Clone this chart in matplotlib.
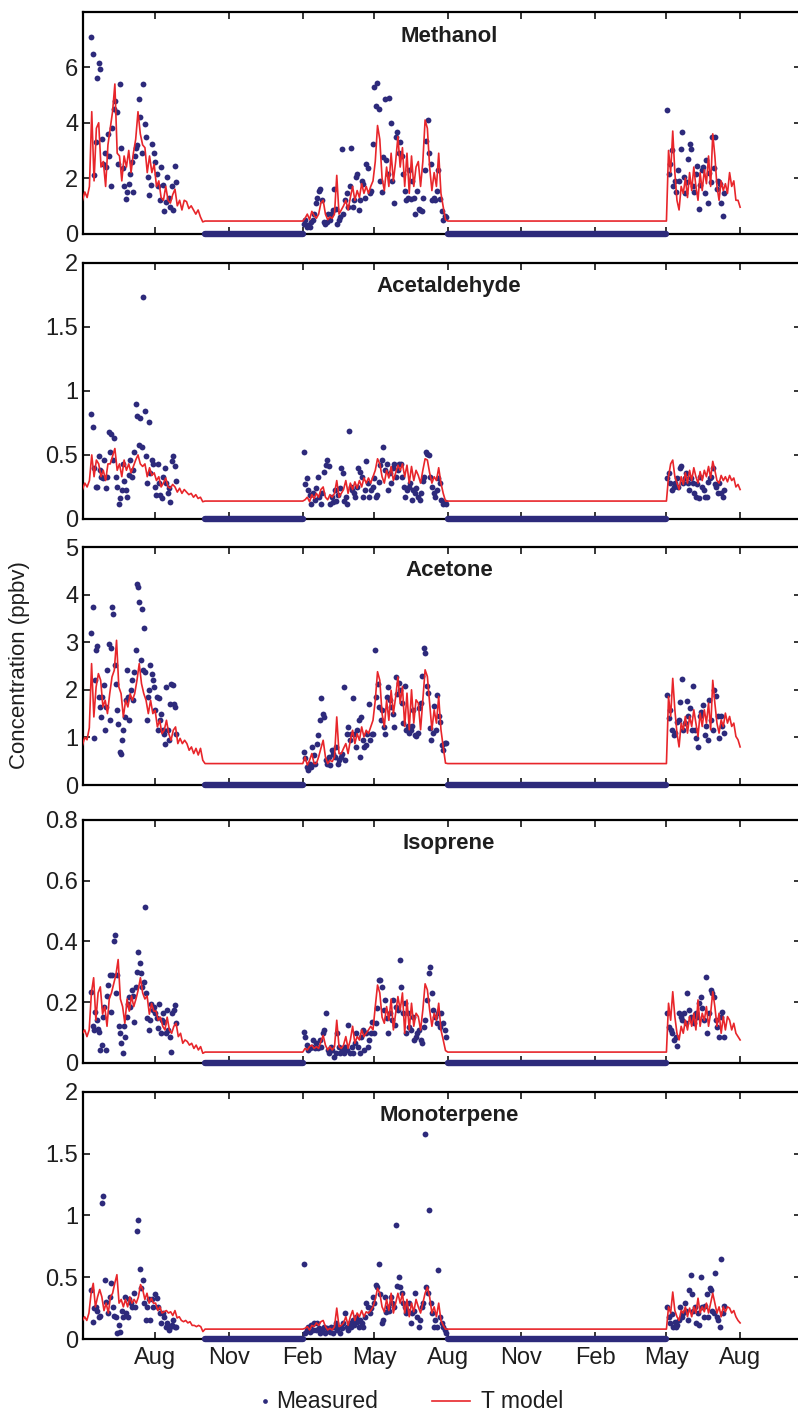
import numpy as np
import matplotlib
matplotlib.use('Agg')
import matplotlib.pyplot as plt
import matplotlib.dates as mdates
from matplotlib.lines import Line2D

plt.rcParams['font.family'] = ['Liberation Sans', 'DejaVu Sans']

NAVY = '#2d2a7b'
RED = '#e8262b'
INK = '#1e1e1e'

# time windows
model_periods = [('2005-05-02', '2005-10-02'), ('2006-02-01', '2006-08-01'), ('2007-05-01', '2007-08-01')]
meas_periods = [('2005-05-13', '2005-08-27'), ('2006-02-02', '2006-07-30'), ('2007-05-02', '2007-07-12')]
zero_periods = [('2005-10-02', '2006-02-01'), ('2006-08-01', '2007-05-01')]
x_range = ('2005-05-02', '2007-10-16')
month_ticks = ['2005-08-01', '2005-11-01', '2006-02-01', '2006-05-01', '2006-08-01',
               '2006-11-01', '2007-02-01', '2007-05-01', '2007-08-01']

species = ['Methanol', 'Acetaldehyde', 'Acetone', 'Isoprene', 'Monoterpene']
y_max = [8, 2, 5, 0.8, 2]
y_ticks = [[0, 2, 4, 6], [0, 0.5, 1, 1.5, 2], [0, 1, 2, 3, 4, 5],
           [0, 0.2, 0.4, 0.6, 0.8], [0, 0.5, 1, 1.5, 2]]

# ---- Methanol ----
meoh_model_1 = [1.2, 1.5, 1.3, 1.7, 4.4, 1.9, 3.8, 4.0, 2.4, 2.6, 1.7, 3.2, 3.8, 4.4, 5.4, 2.9, 2.8, 1.9,
                2.8, 2.4, 3.0, 2.2, 2.9, 3.4, 4.4, 3.6, 3.2, 3.1, 2.2, 2.8, 2.2, 2.5, 1.7, 1.9, 1.3, 1.2,
                1.7, 1.2, 1.1, 1.4, 1.6, 1.0, 1.2, 0.85, 1.2, 1.15, 0.9, 1.0, 0.85, 0.7, 0.85, 0.6, 0.42, 0.45]
meoh_model_2 = [0.45, 0.55, 0.7, 0.5, 0.8, 0.65, 0.55, 0.7, 1.1, 1.2, 0.7, 0.5, 0.6, 0.55, 0.7, 2.1, 0.7,
                0.85, 1.0, 1.2, 0.85, 1.3, 1.7, 1.2, 1.55, 1.3, 1.8, 1.45, 1.7, 1.45, 1.7, 1.9, 2.6, 3.9,
                3.4, 2.0, 1.55, 2.4, 1.7, 2.9, 1.9, 2.6, 3.5, 2.4, 3.1, 1.7, 2.9, 1.45, 2.8, 1.7, 2.4, 2.6,
                1.7, 2.6, 4.1, 3.8, 2.4, 1.55, 2.2, 1.7, 2.9, 1.45, 0.96, 0.5, 0.45]
meoh_model_3 = [0.45, 3.0, 2.2, 3.7, 2.2, 1.2, 0.85, 1.7, 1.45, 2.0, 1.3, 2.2, 1.55, 2.4, 1.7, 1.2, 2.2,
                1.55, 2.3, 1.8, 2.8, 1.7, 3.6, 2.8, 1.7, 1.2, 1.9, 1.55, 1.8, 1.45, 2.2, 1.7, 1.9, 1.2,
                1.2, 0.95]
meoh_meas_1 = [7.1, 6.5, 2.1, 3.3, 5.6, 6.15, 5.95, 3.4, 2.5, 2.9, 2.4, 3.6, 2.8, 1.7, 3.8, 4.5, 4.8, 4.4,
               2.5, 5.4, 3.1, 2.35, 1.7, 1.25, 1.5, 1.8, 2.15, 2.6, 1.5, 2.8, 3.1, 3.2, 4.85, 4.2, 2.9,
               5.4, 3.95, 3.5, 2.05, 1.4, 1.75, 3.25, 2.9, 2.6, 2.15, 1.7, 1.2, 2.4, 1.75, 0.8, 1.15,
               2.05, 1.3, 0.95, 1.7, 0.85, 2.45, 1.85]
meoh_meas_2 = [0.35, 0.5, 0.25, 0.3, 0.25, 0.4, 0.5, 0.7, 1.1, 1.3, 1.55, 1.6, 1.2, 0.4, 0.35, 0.4, 0.7,
               0.5, 0.7, 0.85, 1.6, 0.9, 0.35, 0.5, 0.6, 3.05, 0.7, 1.2, 1.45, 0.95, 1.7, 3.1, 0.95, 1.2,
               2.05, 2.15, 0.85, 1.2, 1.9, 1.8, 1.3, 2.5, 2.35, 1.45, 1.55, 3.25, 5.3, 4.6, 5.45, 4.5,
               1.9, 1.5, 2.75, 4.85, 2.65, 2.15, 4.9, 4.0, 1.9, 1.1, 3.5, 3.65, 2.9, 3.3, 2.8, 2.15,
               1.55, 1.2, 1.3, 2.3, 1.25, 1.9, 1.3, 0.7, 1.55, 0.9, 0.85, 0.8, 1.3, 2.3, 3.35, 4.1, 2.9,
               2.5, 1.2, 1.3, 1.2, 1.55, 2.3, 1.25, 0.8, 0.5, 0.65, 0.6]
meoh_meas_3 = [4.45, 2.15, 2.5, 3.0, 1.7, 1.9, 1.5, 2.3, 1.9, 3.05, 3.65, 2.05, 1.45, 1.85, 2.7, 3.25,
               3.05, 1.7, 1.5, 2.15, 2.45, 0.9, 1.75, 2.3, 2.4, 1.45, 2.65, 1.1, 2.2, 1.85, 3.5, 2.35,
               3.5, 1.6, 1.9, 1.8, 1.1, 0.65, 1.45]

# ---- Acetaldehyde ----
acal_model_1 = [0.23, 0.28, 0.25, 0.30, 0.5, 0.33, 0.46, 0.43, 0.33, 0.38, 0.30, 0.43, 0.43, 0.49, 0.55,
                0.38, 0.43, 0.33, 0.46, 0.38, 0.43, 0.36, 0.41, 0.46, 0.5, 0.43, 0.41, 0.43, 0.33, 0.40,
                0.34, 0.36, 0.30, 0.33, 0.25, 0.28, 0.32, 0.25, 0.24, 0.27, 0.25, 0.21, 0.24, 0.20, 0.23,
                0.21, 0.19, 0.20, 0.17, 0.19, 0.16, 0.17, 0.135, 0.14]
acal_model_2 = [0.14, 0.15, 0.17, 0.135, 0.19, 0.16, 0.2, 0.17, 0.23, 0.25, 0.17, 0.15, 0.19, 0.17, 0.2,
                0.3, 0.17, 0.2, 0.23, 0.3, 0.2, 0.28, 0.23, 0.29, 0.24, 0.3, 0.25, 0.32, 0.28, 0.32, 0.28,
                0.33, 0.38, 0.47, 0.43, 0.33, 0.28, 0.38, 0.32, 0.41, 0.3, 0.36, 0.42, 0.38, 0.43, 0.33,
                0.42, 0.28, 0.41, 0.3, 0.38, 0.34, 0.28, 0.38, 0.47, 0.46, 0.36, 0.28, 0.33, 0.3, 0.4,
                0.28, 0.2, 0.14, 0.14]
acal_model_3 = [0.14, 0.33, 0.43, 0.46, 0.33, 0.28, 0.23, 0.33, 0.27, 0.36, 0.28, 0.38, 0.3, 0.4, 0.33,
                0.28, 0.37, 0.3, 0.38, 0.33, 0.41, 0.32, 0.45, 0.38, 0.3, 0.28, 0.34, 0.3, 0.33, 0.29,
                0.34, 0.3, 0.32, 0.25, 0.27, 0.23]
acal_meas_1 = [0.82, 0.72, 0.4, 0.25, 0.25, 0.49, 0.38, 0.33, 0.32, 0.46, 0.24, 0.33, 0.68, 0.52, 0.66,
               0.46, 0.63, 0.33, 0.25, 0.12, 0.16, 0.23, 0.43, 0.3, 0.23, 0.17, 0.34, 0.46, 0.33, 0.38,
               0.52, 0.9, 0.8, 0.58, 0.79, 0.56, 1.73, 0.84, 0.49, 0.28, 0.76, 0.36, 0.46, 0.43, 0.25,
               0.19, 0.43, 0.28, 0.19, 0.16, 0.33, 0.4, 0.28, 0.2, 0.24, 0.135, 0.45, 0.49, 0.41, 0.3]
acal_meas_2 = [0.52, 0.27, 0.32, 0.23, 0.19, 0.12, 0.2, 0.15, 0.24, 0.33, 0.17, 0.12, 0.2, 0.37, 0.42,
               0.46, 0.41, 0.12, 0.17, 0.135, 0.23, 0.14, 0.19, 0.24, 0.4, 0.36, 0.14, 0.17, 0.12, 0.69,
               0.25, 0.23, 0.2, 0.17, 0.25, 0.4, 0.37, 0.33, 0.17, 0.23, 0.45, 0.28, 0.17, 0.23, 0.25,
               0.32, 0.17, 0.19, 0.29, 0.42, 0.46, 0.56, 0.38, 0.43, 0.23, 0.36, 0.28, 0.4, 0.43, 0.33,
               0.38, 0.43, 0.43, 0.33, 0.25, 0.17, 0.23, 0.25, 0.28, 0.15, 0.23, 0.2, 0.24, 0.17, 0.15,
               0.2, 0.3, 0.33, 0.52, 0.51, 0.5, 0.33, 0.25, 0.2, 0.17, 0.23, 0.32, 0.28, 0.15, 0.12,
               0.135, 0.12]
acal_meas_3 = [0.32, 0.36, 0.28, 0.23, 0.25, 0.28, 0.32, 0.25, 0.4, 0.41, 0.28, 0.32, 0.36, 0.28, 0.23,
               0.32, 0.28, 0.2, 0.17, 0.27, 0.16, 0.33, 0.25, 0.23, 0.17, 0.17, 0.29, 0.32, 0.33, 0.4,
               0.27, 0.25, 0.2, 0.28, 0.2, 0.17, 0.23]

# ---- Acetone ----
acet_model_1 = [0.84, 1.0, 0.95, 1.2, 2.55, 1.43, 2.06, 2.34, 2.2, 1.64, 1.78, 1.5, 1.92, 2.27, 2.41, 3.04,
                2.06, 1.92, 1.43, 1.78, 1.64, 1.92, 1.78, 1.92, 2.2, 2.55, 2.13, 1.92, 1.78, 1.5, 1.78,
                1.5, 1.57, 1.22, 1.36, 1.08, 1.15, 1.36, 1.08, 0.94, 1.15, 1.22, 0.87, 0.98, 0.87, 0.94,
                0.87, 0.73, 0.8, 0.66, 0.77, 0.63, 0.77, 0.52, 0.45]
acet_model_2 = [0.45, 0.59, 0.42, 0.52, 0.66, 0.45, 0.45, 0.59, 0.77, 0.94, 0.59, 0.45, 0.52, 0.49, 0.59,
                1.43, 0.66, 0.66, 0.77, 0.87, 0.66, 0.94, 1.15, 0.87, 1.08, 0.94, 1.22, 1.01, 1.15, 1.08,
                1.22, 1.36, 1.78, 2.38, 2.2, 1.5, 1.22, 1.78, 1.36, 1.99, 1.5, 1.85, 2.27, 1.72, 2.07,
                1.23, 1.93, 1.16, 2.0, 1.3, 1.79, 1.72, 1.16, 1.79, 2.42, 2.28, 1.72, 1.16, 1.58, 1.3,
                1.86, 1.16, 0.8, 0.46, 0.45]
acet_model_3 = [0.45, 1.86, 1.44, 2.24, 1.58, 1.09, 0.8, 1.3, 1.16, 1.44, 1.09, 1.44, 1.23, 1.58, 1.3,
                1.02, 1.51, 1.23, 1.58, 1.3, 1.72, 1.16, 2.2, 1.72, 1.3, 1.09, 1.37, 1.23, 1.51, 1.3,
                1.44, 1.23, 1.3, 1.02, 0.95, 0.8]
acet_meas_1 = [3.2, 3.75, 0.98, 2.2, 2.83, 2.92, 1.85, 1.64, 1.43, 1.85, 2.1, 1.15, 1.64, 2.41, 2.97, 1.36,
               2.87, 3.75, 3.6, 2.52, 2.13, 1.57, 1.29, 0.7, 0.66, 0.94, 1.15, 1.43, 1.78, 2.41, 1.85,
               1.36, 1.99, 2.2, 1.78, 2.38, 2.83, 4.23, 4.16, 3.85, 2.62, 3.7, 2.41, 3.29, 2.38, 1.36,
               1.85, 1.99, 2.52, 2.34, 2.2, 2.06, 1.57, 1.85, 1.15, 1.82, 1.36, 1.5, 1.15, 1.08, 0.87,
               2.06, 1.15, 0.94, 1.71, 2.13, 2.1, 1.71, 1.64, 1.08]
acet_meas_2 = [0.7, 0.56, 0.38, 0.31, 0.45, 0.38, 0.8, 0.63, 0.45, 0.87, 1.05, 1.36, 1.82, 1.5, 1.43,
               0.52, 0.45, 0.59, 0.42, 0.73, 0.66, 0.59, 0.8, 0.45, 0.52, 0.59, 0.66, 2.06, 0.52, 1.08,
               1.22, 0.94, 1.08, 1.82, 1.08, 0.8, 1.15, 1.36, 0.59, 1.43, 0.94, 0.8, 0.84, 1.08, 1.71,
               0.94, 1.08, 1.08, 2.83, 1.85, 2.13, 1.64, 1.36, 1.57, 1.22, 1.08, 1.85, 2.06, 1.78, 1.64,
               1.5, 1.22, 2.27, 1.92, 2.14, 2.0, 1.72, 1.3, 2.07, 1.16, 1.23, 1.09, 1.16, 1.23, 1.58,
               1.05, 1.02, 1.09, 1.61, 1.72, 2.28, 2.87, 2.78, 2.07, 1.93, 1.19, 0.95, 1.09, 1.65, 1.16,
               1.89, 1.44, 1.33, 0.84, 0.74, 0.88, 0.88]
acet_meas_3 = [1.89, 1.4, 1.58, 1.16, 1.05, 1.09, 1.33, 1.37, 1.74, 2.23, 1.16, 1.3, 1.77, 1.44, 1.61,
               1.16, 2.07, 1.16, 0.98, 0.8, 1.44, 1.54, 1.68, 1.05, 1.23, 0.95, 1.79, 1.37, 1.16, 2.0,
               1.86, 1.44, 0.98, 1.44, 1.23, 1.09]

# ---- Isoprene ----
isop_model_1 = [0.097, 0.108, 0.086, 0.108, 0.23, 0.28, 0.14, 0.23, 0.25, 0.16, 0.185, 0.12, 0.21, 0.23,
                0.26, 0.29, 0.34, 0.21, 0.185, 0.13, 0.21, 0.17, 0.22, 0.185, 0.21, 0.24, 0.28, 0.23,
                0.21, 0.22, 0.16, 0.195, 0.17, 0.17, 0.14, 0.15, 0.12, 0.108, 0.15, 0.108, 0.097, 0.12,
                0.13, 0.086, 0.097, 0.064, 0.075, 0.07, 0.058, 0.064, 0.047, 0.058, 0.042, 0.053, 0.031,
                0.035]
isop_model_2 = [0.035, 0.047, 0.042, 0.053, 0.058, 0.047, 0.053, 0.047, 0.07, 0.09, 0.058, 0.042, 0.053,
                0.042, 0.053, 0.14, 0.053, 0.047, 0.058, 0.086, 0.047, 0.075, 0.12, 0.064, 0.086, 0.075,
                0.108, 0.086, 0.097, 0.108, 0.12, 0.108, 0.185, 0.256, 0.23, 0.15, 0.13, 0.185, 0.14,
                0.21, 0.108, 0.163, 0.218, 0.174, 0.23, 0.097, 0.207, 0.108, 0.196, 0.12, 0.163, 0.152,
                0.108, 0.174, 0.26, 0.24, 0.174, 0.12, 0.163, 0.14, 0.196, 0.108, 0.075, 0.04, 0.035]
isop_model_3 = [0.035, 0.196, 0.14, 0.234, 0.152, 0.097, 0.075, 0.12, 0.097, 0.14, 0.108, 0.152, 0.12,
                0.163, 0.108, 0.207, 0.12, 0.163, 0.14, 0.185, 0.12, 0.163, 0.234, 0.185, 0.12, 0.163,
                0.097, 0.152, 0.108, 0.152, 0.14, 0.108, 0.13, 0.097, 0.086, 0.075]
isop_meas_1 = [0.234, 0.12, 0.108, 0.168, 0.14, 0.11, 0.1, 0.042, 0.058, 0.15, 0.185, 0.042, 0.22, 0.256,
               0.29, 0.168, 0.29, 0.4, 0.42, 0.23, 0.29, 0.12, 0.097, 0.064, 0.031, 0.12, 0.086, 0.15,
               0.195, 0.218, 0.185, 0.24, 0.22, 0.135, 0.25, 0.3, 0.366, 0.33, 0.295, 0.25, 0.267, 0.514,
               0.23, 0.146, 0.108, 0.14, 0.195, 0.173, 0.185, 0.163, 0.146, 0.113, 0.195, 0.097, 0.14,
               0.163, 0.135, 0.097, 0.173, 0.108, 0.086, 0.036, 0.163, 0.173, 0.19, 0.13]
isop_meas_2 = [0.1, 0.086, 0.058, 0.042, 0.047, 0.053, 0.075, 0.047, 0.064, 0.047, 0.075, 0.053, 0.097,
               0.108, 0.163, 0.042, 0.031, 0.053, 0.042, 0.02, 0.031, 0.097, 0.053, 0.031, 0.042, 0.031,
               0.053, 0.042, 0.124, 0.031, 0.053, 0.031, 0.064, 0.097, 0.053, 0.031, 0.086, 0.108, 0.042,
               0.097, 0.053, 0.075, 0.097, 0.135, 0.097, 0.13, 0.179, 0.273, 0.273, 0.251, 0.174, 0.207,
               0.146, 0.097, 0.163, 0.14, 0.207, 0.124, 0.185, 0.174, 0.34, 0.251, 0.163, 0.196, 0.097,
               0.163, 0.119, 0.108, 0.152, 0.075, 0.086, 0.097, 0.108, 0.075, 0.064, 0.119, 0.14, 0.207,
               0.295, 0.316, 0.229, 0.174, 0.152, 0.13, 0.163, 0.119, 0.163, 0.13, 0.108, 0.086]
isop_meas_3 = [0.163, 0.119, 0.108, 0.097, 0.075, 0.086, 0.055, 0.163, 0.152, 0.14, 0.163, 0.13, 0.229,
               0.174, 0.152, 0.14, 0.13, 0.163, 0.152, 0.196, 0.218, 0.179, 0.14, 0.284, 0.097, 0.163,
               0.24, 0.229, 0.218, 0.14, 0.119, 0.086, 0.152, 0.168, 0.086]

# ---- Monoterpene ----
mono_model_1 = [0.15, 0.18, 0.15, 0.21, 0.37, 0.45, 0.26, 0.34, 0.40, 0.34, 0.23, 0.29, 0.21, 0.34, 0.37,
                0.45, 0.52, 0.29, 0.32, 0.26, 0.32, 0.26, 0.34, 0.29, 0.32, 0.29, 0.34, 0.44, 0.40, 0.32,
                0.37, 0.29, 0.33, 0.29, 0.29, 0.23, 0.26, 0.21, 0.22, 0.23, 0.21, 0.22, 0.19, 0.23, 0.17,
                0.18, 0.15, 0.14, 0.15, 0.13, 0.14, 0.11, 0.11, 0.10, 0.11, 0.10, 0.06, 0.08]
mono_model_2 = [0.08, 0.086, 0.1, 0.073, 0.11, 0.1, 0.13, 0.11, 0.14, 0.15, 0.1, 0.073, 0.086, 0.073, 0.1,
                0.25, 0.1, 0.11, 0.13, 0.18, 0.11, 0.18, 0.23, 0.15, 0.21, 0.18, 0.23, 0.18, 0.22, 0.21,
                0.23, 0.26, 0.32, 0.41, 0.37, 0.26, 0.22, 0.32, 0.23, 0.37, 0.21, 0.29, 0.37, 0.29, 0.37,
                0.21, 0.32, 0.18, 0.29, 0.22, 0.32, 0.26, 0.21, 0.29, 0.37, 0.42, 0.34, 0.21, 0.26, 0.18,
                0.29, 0.15, 0.11, 0.08, 0.08]
mono_model_3 = [0.08, 0.26, 0.21, 0.38, 0.23, 0.18, 0.15, 0.23, 0.21, 0.26, 0.18, 0.25, 0.18, 0.26, 0.21,
                0.33, 0.21, 0.26, 0.22, 0.29, 0.21, 0.29, 0.37, 0.29, 0.21, 0.26, 0.18, 0.26, 0.22, 0.26,
                0.25, 0.21, 0.23, 0.18, 0.15, 0.13]
mono_meas_1 = [0.4, 0.14, 0.25, 0.26, 0.23, 0.18, 0.19, 1.1, 1.16, 0.48, 0.3, 0.21, 0.34, 0.45, 0.26, 0.19,
               0.18, 0.046, 0.11, 0.06, 0.23, 0.18, 0.34, 0.21, 0.18, 0.32, 0.29, 0.26, 0.37, 0.26, 0.87,
               0.96, 0.57, 0.41, 0.48, 0.29, 0.15, 0.26, 0.32, 0.15, 0.32, 0.26, 0.36, 0.33, 0.26, 0.21,
               0.13, 0.21, 0.18, 0.1, 0.13, 0.07, 0.1, 0.11, 0.15, 0.1, 0.1]
mono_meas_2 = [0.61, 0.046, 0.073, 0.1, 0.06, 0.11, 0.073, 0.13, 0.073, 0.13, 0.086, 0.046, 0.073, 0.1,
               0.046, 0.086, 0.073, 0.06, 0.1, 0.046, 0.1, 0.13, 0.073, 0.1, 0.046, 0.086, 0.13, 0.21, 0.1,
               0.073, 0.13, 0.1, 0.15, 0.11, 0.18, 0.14, 0.1, 0.15, 0.13, 0.1, 0.18, 0.29, 0.26, 0.21,
               0.25, 0.34, 0.29, 0.44, 0.42, 0.61, 0.36, 0.13, 0.15, 0.34, 0.22, 0.26, 0.23, 0.34, 0.29,
               0.26, 0.92, 0.43, 0.5, 0.42, 0.37, 0.29, 0.26, 0.21, 0.23, 0.29, 0.13, 0.21, 0.23, 0.37,
               0.18, 0.1, 0.15, 0.26, 0.29, 1.66, 0.42, 0.37, 1.04, 0.29, 0.21, 0.1, 0.15, 0.1, 0.56,
               0.18, 0.13, 0.1, 0.073, 0.046]
mono_meas_3 = [0.26, 0.18, 0.13, 0.2, 0.1, 0.14, 0.1, 0.11, 0.15, 0.26, 0.18, 0.21, 0.29, 0.23, 0.15, 0.4,
               0.52, 0.36, 0.23, 0.26, 0.13, 0.21, 0.11, 0.5, 0.26, 0.18, 0.27, 0.36, 0.18, 0.41, 0.4,
               0.23, 0.21, 0.53, 0.18, 0.15, 0.1, 0.65, 0.21, 0.27]

models = [(meoh_model_1, meoh_model_2, meoh_model_3), (acal_model_1, acal_model_2, acal_model_3),
          (acet_model_1, acet_model_2, acet_model_3), (isop_model_1, isop_model_2, isop_model_3),
          (mono_model_1, mono_model_2, mono_model_3)]
measured = [(meoh_meas_1, meoh_meas_2, meoh_meas_3), (acal_meas_1, acal_meas_2, acal_meas_3),
            (acet_meas_1, acet_meas_2, acet_meas_3), (isop_meas_1, isop_meas_2, isop_meas_3),
            (mono_meas_1, mono_meas_2, mono_meas_3)]


def dnum(s):
    return mdates.datestr2num(s)


def spread(period, values):
    # evenly spaced sample dates across a window
    return np.linspace(dnum(period[0]), dnum(period[1]), len(values))


W, H = 798, 1411
fig = plt.figure(figsize=(W / 100, H / 100), dpi=100)

# panel top/bottom edges in pixels
rows = [(12, 233.5), (262.7, 519), (547, 785), (820, 1062.7), (1091.7, 1339)]
left_px, right_px = 82.5, 801
FS = 17

for i, name in enumerate(species):
    top, bot = rows[i]
    ax = fig.add_axes([left_px / W, 1 - bot / H, (right_px - left_px) / W, (bot - top) / H])

    for period, vals in zip(meas_periods, measured[i]):
        ax.plot(spread(period, vals), vals, 'o', ms=4.2, color=NAVY, mec='none', zorder=2)
    for a, b in zero_periods:
        ax.plot([dnum(a), dnum(b)], [0, 0], color=NAVY, lw=4.6, solid_capstyle='round',
                clip_on=False, zorder=5)

    mx = np.concatenate([spread(p, v) for p, v in zip(model_periods, models[i])])
    my = np.concatenate([np.asarray(v) for v in models[i]])
    ax.plot(mx, my, color=RED, lw=1.2, zorder=3)

    ax.set_xlim(dnum(x_range[0]), dnum(x_range[1]))
    ax.set_ylim(0, y_max[i])
    ax.set_yticks(y_ticks[i])
    ax.set_yticklabels(['%g' % t for t in y_ticks[i]])
    ax.set_xticks([dnum(t) for t in month_ticks])
    if i == len(species) - 1:
        ax.xaxis.set_major_formatter(mdates.DateFormatter('%b'))
    else:
        ax.set_xticklabels([])
    ax.tick_params(direction='in', length=5, width=1.1, top=True, right=True,
                   labelsize=FS, color='black', labelcolor=INK)
    ax.tick_params(axis='y', pad=3)
    ax.tick_params(axis='x', pad=6)
    for sp in ax.spines.values():
        sp.set_linewidth(1.6)
    ax.text(0.51, 1 - 24 / (bot - top), name, transform=ax.transAxes, ha='center', va='center',
            fontsize=16, fontweight='bold', color=INK)

fig.text(20 / W, 1 - 665 / H, 'Concentration (ppbv)', rotation=90, ha='center', va='center',
         fontsize=16, color=INK)

# legend
ly = 1 - 1401 / H
fig.add_artist(Line2D([265 / W], [ly], marker='o', ms=3.4, color=NAVY, mec='none',
                      transform=fig.transFigure))
fig.text(276 / W, ly, 'Measured', ha='left', va='center', fontsize=16.5, color=INK)
fig.add_artist(Line2D([432 / W, 470 / W], [ly, ly], color=RED, lw=1.2, transform=fig.transFigure))
fig.text(481 / W, ly, 'T model', ha='left', va='center', fontsize=16.5, color=INK)

fig.savefig('out.png', dpi=100)
